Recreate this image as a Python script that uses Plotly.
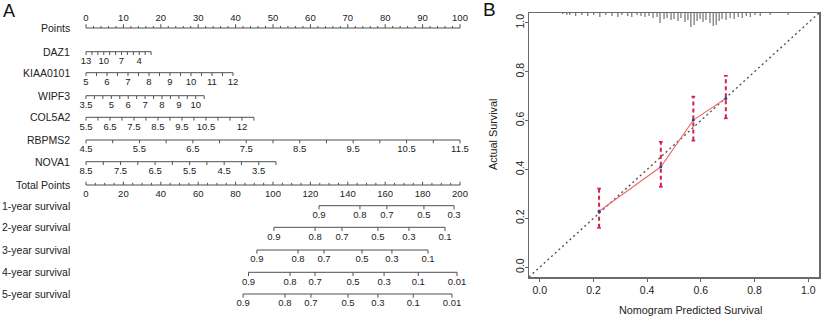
import plotly.graph_objects as go

# ================= DATA : panel A (nomogram) =================
points_labels = [0, 10, 20, 30, 40, 50, 60, 70, 80, 90, 100]
points_minor = [0, 2, 4, 6, 8, 10, 12, 14, 16, 18, 20, 22, 24, 26, 28, 30, 32, 34, 36, 38, 40,
                42, 44, 46, 48, 50, 52, 54, 56, 58, 60, 62, 64, 66, 68, 70, 72, 74, 76, 78, 80,
                82, 84, 86, 88, 90, 92, 94, 96, 98, 100]

var_names = ["DAZ1", "KIAA0101", "WIPF3", "COL5A2", "RBPMS2", "NOVA1"]
# (value giving 0 points, value at far end, points at far end)
daz1_scale = (13, 2, 17.4)
daz1_ticks = [13, 12, 11, 10, 9, 8, 7, 6, 5, 4, 3, 2]
daz1_labels = [13, 10, 7, 4]

kiaa0101_scale = (5, 12, 39.3)
kiaa0101_ticks = [5, 5.5, 6, 6.5, 7, 7.5, 8, 8.5, 9, 9.5, 10, 10.5, 11, 11.5, 12]
kiaa0101_labels = [5, 6, 7, 8, 9, 10, 11, 12]

wipf3_scale = (3.5, 10.5, 31.6)
wipf3_ticks = [3.5, 4, 4.5, 5, 5.5, 6, 6.5, 7, 7.5, 8, 8.5, 9, 9.5, 10, 10.5]
wipf3_labels = [3.5, 5, 6, 7, 8, 9, 10]

col5a2_scale = (5.5, 12.5, 44.9)
col5a2_ticks = [5.5, 6, 6.5, 7, 7.5, 8, 8.5, 9, 9.5, 10, 10.5, 11, 11.5, 12, 12.5]
col5a2_labels = [5.5, 6.5, 7.5, 8.5, 9.5, 10.5, 12]

rbpms2_scale = (4.5, 11.5, 100.0)
rbpms2_ticks = [4.5, 5, 5.5, 6, 6.5, 7, 7.5, 8, 8.5, 9, 9.5, 10, 10.5, 11, 11.5]
rbpms2_labels = [4.5, 5.5, 6.5, 7.5, 8.5, 9.5, 10.5, 11.5]

nova1_scale = (8.5, 3, 50.8)
nova1_ticks = [8.5, 8, 7.5, 7, 6.5, 6, 5.5, 5, 4.5, 4, 3.5, 3]
nova1_labels = [8.5, 7.5, 6.5, 5.5, 4.5, 3.5]

total_labels = [0, 20, 40, 60, 80, 100, 120, 140, 160, 180, 200]
total_minor = [0, 5, 10, 15, 20, 25, 30, 35, 40, 45, 50, 55, 60, 65, 70, 75, 80, 85, 90, 95,
               100, 105, 110, 115, 120, 125, 130, 135, 140, 145, 150, 155, 160, 165, 170, 175,
               180, 185, 190, 195, 200]

surv_names = ["1-year survival", "2-year survival", "3-year survival",
              "4-year survival", "5-year survival"]
surv1_probs = [0.9, 0.8, 0.7, 0.5, 0.3]
surv1_total = [124.6, 146.5, 160.9, 180.7, 196.8]
surv2_probs = [0.9, 0.8, 0.7, 0.5, 0.3, 0.1]
surv2_total = [100.5, 122.5, 136.9, 156.1, 172.7, 192.0]
surv3_probs = [0.9, 0.8, 0.7, 0.5, 0.3, 0.1]
surv3_total = [91.4, 113.4, 127.3, 147.6, 163.6, 182.9]
surv4_probs = [0.9, 0.8, 0.7, 0.5, 0.3, 0.1, 0.01]
surv4_total = [86.9, 109.1, 122.5, 142.8, 159.4, 177.7, 198.4]
surv5_probs = [0.9, 0.8, 0.7, 0.5, 0.3, 0.1, 0.01]
surv5_total = [84.0, 106.4, 120.3, 140.1, 156.1, 175.0, 195.7]

# ================= DATA : panel B (calibration) =================
cal_pred = [0.221, 0.451, 0.572, 0.693]
cal_obs = [0.229, 0.411, 0.602, 0.690]
cal_lower = [0.161, 0.329, 0.518, 0.609]
cal_upper = [0.322, 0.513, 0.698, 0.783]
calib_ticks = [0.0, 0.2, 0.4, 0.6, 0.8, 1.0]

rug_pred = [0.086, 0.101, 0.112, 0.134, 0.157, 0.179, 0.201, 0.224, 0.246, 0.269, 0.291,
            0.306, 0.328, 0.343, 0.362, 0.377, 0.392, 0.407, 0.422, 0.437, 0.448, 0.463,
            0.474, 0.489, 0.500, 0.515, 0.526, 0.541, 0.552, 0.563, 0.575, 0.586, 0.597,
            0.608, 0.619, 0.634, 0.646, 0.657, 0.668, 0.679, 0.694, 0.709, 0.724, 0.739,
            0.754, 0.769, 0.784, 0.802, 0.821, 0.858, 0.925]
rug_count = [1, 2, 2, 3, 2, 3, 2, 4, 2, 3, 4, 2, 3, 4, 2, 3, 4, 3, 5, 4, 10, 6, 5, 7, 6,
             8, 5, 9, 7, 14, 12, 8, 6, 9, 7, 10, 13, 12, 8, 6, 7, 5, 6, 4, 5, 3, 4, 2, 3,
             2, 2]

# ================= LAYOUT constants =================
W, H = 824, 319
FONT = "Liberation Sans, Arial, Helvetica, sans-serif"
LINE_C = "#505050"
TEXT_C = "#222222"
ROW_Y = [28, 51.7, 72.7, 95.7, 117.3, 140, 161.7, 185, 205.7, 227.3, 250, 272.3, 294]
LAB_OFF = 10.0
TICK_L = 3.3

fig = go.Figure()


def seg_trace(xs, ys, xaxis="x", yaxis="y", color=LINE_C, width=1, dash=None):
    fig.add_trace(go.Scatter(x=xs, y=ys, mode="lines", xaxis=xaxis, yaxis=yaxis,
                             line=dict(color=color, width=width, dash=dash),
                             hoverinfo="skip", showlegend=False))


def text_trace(xs, ys, texts, xaxis="x", yaxis="y", size=9.5):
    fig.add_trace(go.Scatter(x=xs, y=ys, mode="text", text=texts, xaxis=xaxis, yaxis=yaxis,
                             textposition="middle center", cliponaxis=False,
                             textfont=dict(family=FONT, size=size, color=TEXT_C),
                             hoverinfo="skip", showlegend=False))


def fmt(v):
    return ("%g" % v)


def to_pts(v, scale):
    v0, v1, p1 = scale
    return (v - v0) / (v1 - v0) * p1


lx, ly = [], []      # lines in points axis
l2x, l2y = [], []    # lines in total-points axis

# ---- Points row ----
y0 = ROW_Y[0]
lx += [0, 100, None]; ly += [y0, y0, None]
for t in points_minor:
    ln = 3.8 if t in points_labels else 2.0
    lx += [t, t, None]; ly += [y0, y0 - ln, None]
text_trace(points_labels, [y0 - 9] * len(points_labels), [fmt(v) for v in points_labels])

# ---- variable rows ----
var_data = [(daz1_scale, daz1_ticks, daz1_labels),
            (kiaa0101_scale, kiaa0101_ticks, kiaa0101_labels),
            (wipf3_scale, wipf3_ticks, wipf3_labels),
            (col5a2_scale, col5a2_ticks, col5a2_labels),
            (rbpms2_scale, rbpms2_ticks, rbpms2_labels),
            (nova1_scale, nova1_ticks, nova1_labels)]
for i, (sc, ticks, labs) in enumerate(var_data):
    yy = ROW_Y[i + 1]
    lx += [to_pts(sc[0], sc), to_pts(sc[1], sc), None]; ly += [yy, yy, None]
    for t in ticks:
        p = to_pts(t, sc)
        lx += [p, p, None]; ly += [yy, yy + TICK_L, None]
    text_trace([to_pts(v, sc) for v in labs], [yy + LAB_OFF] * len(labs), [fmt(v) for v in labs])

# ---- Total points row ----
yt = ROW_Y[7]
l2x += [0, 200, None]; l2y += [yt, yt, None]
for t in total_minor:
    ln = 3.3 if t in total_labels else 2.2
    l2x += [t, t, None]; l2y += [yt, yt - ln, None]
text_trace(total_labels, [yt + 9.5] * len(total_labels), [fmt(v) for v in total_labels], xaxis="x2")

# ---- survival rows ----
surv_data = [(surv1_probs, surv1_total), (surv2_probs, surv2_total), (surv3_probs, surv3_total),
             (surv4_probs, surv4_total), (surv5_probs, surv5_total)]
for i, (probs, tots) in enumerate(surv_data):
    yy = ROW_Y[8 + i]
    l2x += [tots[0], tots[-1], None]; l2y += [yy, yy, None]
    for t in tots:
        l2x += [t, t, None]; l2y += [yy, yy + TICK_L + 0.4, None]
    text_trace(tots, [yy + LAB_OFF] * len(tots), [fmt(v) for v in probs], xaxis="x2")

seg_trace(lx, ly)
seg_trace(l2x, l2y, xaxis="x2")

# row labels
row_names = ["Points"] + var_names + ["Total Points"] + surv_names
annotations = []
for name, yy in zip(row_names, ROW_Y):
    annotations.append(dict(x=72 / W, y=yy, xref="paper", yref="y", text=name, showarrow=False,
                            xanchor="right", yanchor="middle",
                            font=dict(family=FONT, size=10.5, color=TEXT_C)))

# ================= Panel B =================
RUG_TOP = 1.04
RUG_K = 1.0 / 244
rx, ry = [], []
for p, n in zip(rug_pred, rug_count):
    rx += [p, p, None]; ry += [RUG_TOP, RUG_TOP - n * RUG_K, None]
seg_trace(rx, ry, xaxis="x3", yaxis="y3", color="#555555", width=1)

seg_trace([-0.04, 1.04], [-0.04, 1.04], xaxis="x3", yaxis="y3", color="#555555", width=1.4,
          dash="2px,3px")

ex, ey, cx, cy = [], [], [], []
CAP = 0.007
for p, lo, hi in zip(cal_pred, cal_lower, cal_upper):
    ex += [p, p, None]; ey += [lo, hi, None]
    cx += [p - CAP, p + CAP, None, p - CAP, p + CAP, None]
    cy += [lo, lo, None, hi, hi, None]
seg_trace(ex, ey, xaxis="x3", yaxis="y3", color="#d4204c", width=2, dash="4px,3px")
seg_trace(cx, cy, xaxis="x3", yaxis="y3", color="#d4204c", width=1.6)

fig.add_trace(go.Scatter(x=cal_pred, y=cal_obs, mode="lines", xaxis="x3", yaxis="y3",
                         line=dict(color="#ee6a6a", width=1.1), hoverinfo="skip",
                         showlegend=False))
fig.add_trace(go.Scatter(x=cal_pred, y=cal_obs, mode="markers", xaxis="x3", yaxis="y3",
                         marker=dict(color="#2a3f9a", size=3), hoverinfo="skip",
                         showlegend=False))

annotations += [
    dict(x=690 / W, y=1 - 310 / H, xref="paper", yref="paper", text="Nomogram Predicted Survival",
         showarrow=False, xanchor="center", yanchor="middle",
         font=dict(family=FONT, size=10.8, color=TEXT_C)),
    dict(x=493 / W, y=1 - 135 / H, xref="paper", yref="paper", text="Actual Survival",
         showarrow=False, xanchor="center", yanchor="middle", textangle=-90,
         font=dict(family=FONT, size=10.8, color=TEXT_C)),
    dict(x=9 / W, y=1 - 11 / H, xref="paper", yref="paper", text="A", showarrow=False,
         xanchor="center", yanchor="middle", font=dict(family=FONT, size=18, color="#111")),
    dict(x=489 / W, y=1 - 10 / H, xref="paper", yref="paper", text="B", showarrow=False,
         xanchor="center", yanchor="middle", font=dict(family=FONT, size=19, color="#111")),
]

PX = 3.74  # pixels per point on panel A
fig.update_layout(
    width=W, height=H, margin=dict(l=0, r=0, t=0, b=0),
    paper_bgcolor="white", plot_bgcolor="white",
    xaxis=dict(domain=[0, 480 / W], range=[-86 / PX, (480 - 86) / PX], visible=False),
    xaxis2=dict(domain=[0, 480 / W], range=[-2 * 86 / PX, 2 * (480 - 86) / PX], visible=False,
                overlaying="x", anchor="y"),
    yaxis=dict(domain=[0, 1], range=[H, 0], visible=False),
    xaxis3=dict(domain=[529 / W, 819 / W], range=[-0.04, 1.04], anchor="y3",
                tickvals=calib_ticks, ticktext=["%.1f" % v for v in calib_ticks],
                ticks="outside", ticklen=3, tickcolor="#666", showgrid=False, zeroline=False,
                showline=True, linecolor="#6a6a6a", linewidth=1.5, mirror=True,
                tickfont=dict(family=FONT, size=10.5, color=TEXT_C)),
    yaxis3=dict(domain=[1 - 277 / H, 1 - 13 / H], range=[-0.04, 1.04], anchor="x3",
                tickvals=calib_ticks, ticktext=["%.1f" % v for v in calib_ticks],
                ticks="outside", ticklen=3, tickcolor="#666", showgrid=False, zeroline=False,
                showline=True, linecolor="#6a6a6a", linewidth=1.5, mirror=True, tickangle=-90,
                ticklabelstandoff=-4,
                tickfont=dict(family=FONT, size=10.5, color=TEXT_C)),
    annotations=annotations,
)

fig.write_html("out.html", config={"displayModeBar": False, "staticPlot": True},
               post_script="document.body.style.margin='0px';document.body.style.overflow='hidden';")
